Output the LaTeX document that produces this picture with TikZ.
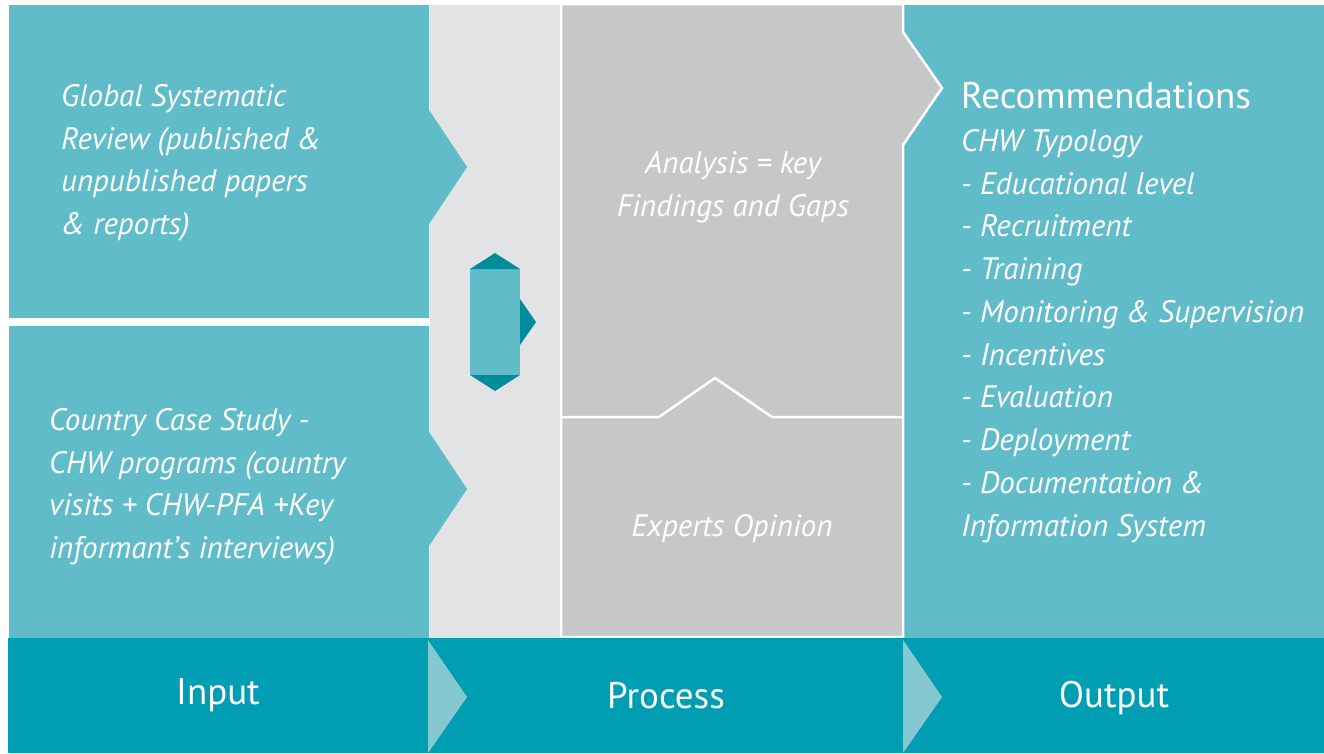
\documentclass[tikz,border=0pt]{standalone}
\usepackage{fontspec}
\setmainfont{PT Sans}

\definecolor{tealpale}{HTML}{61BCCA}
\definecolor{tealdark}{HTML}{008C9B}
\definecolor{tealband}{HTML}{009EB2}
\definecolor{tealtip}{HTML}{86C8D2}
\definecolor{greylight}{HTML}{E2E3E5}
\definecolor{greymid}{HTML}{C6C7C9}

\begin{document}
\begin{tikzpicture}[x=1pt, y=-1pt,
        body/.style={text=white, inner sep=0pt, align=left,
            font=\fontsize{31}{42.75}\selectfont\itshape},
        stage/.style={text=white, inner sep=0pt,
            font=\fontsize{37}{42}\selectfont}]
    \useasboundingbox (0,0) rectangle (1324,753);

    % process column and the two input blocks
    \fill[greylight] (430,5) rectangle (560,638);
    \fill[tealpale] (9,5) -- (429,5) -- (429,110) -- (467,167) -- (429,224) -- (429,318) -- (9,318) -- cycle;
    \fill[tealpale] (9,326) -- (429,326) -- (429,432) -- (467,489) -- (429,546) -- (429,638) -- (9,638) -- cycle;

    % output block, analysis block on top of it
    \fill[tealpale] (903,5) rectangle (1324,638);
    \filldraw[greymid, draw=white, line width=2.5pt] (561,4) -- (903,4) -- (903,32) -- (942,88) -- (903,145) -- (903,637) -- (561,637) -- cycle;
    \draw[white, line width=2.5pt] (562,417) -- (659,417) -- (715,378) -- (772,417) -- (903,417);

    % small icon
    \fill[tealpale] (470,269) rectangle (520,375);
    \fill[tealdark] (470,269) -- (495,253) -- (520,269) -- cycle;
    \fill[tealdark] (470,375) -- (495,391) -- (520,375) -- cycle;
    \fill[tealdark] (520,299) -- (536,322) -- (520,345) -- cycle;

    % bottom band
    \fill[tealband] (8,638) rectangle (1324,753);
    \fill[tealtip] (428,640) -- (467,697) -- (428,753) -- cycle;
    \fill[tealtip] (903,640) -- (942,697) -- (903,753) -- cycle;

    \node[body, anchor=north west] (review) at (61,84)
        {Global Systematic\\Review (published \&\\unpublished papers\\\& reports)};
    \node[body, anchor=north west] (casestudy) at (49,408)
        {Country Case Study -\\CHW programs (country\\visits + CHW-PFA +Key\\informant’s interviews)};
    \node[body, align=center] (analysis) at (733,187) {Analysis = key\\Findings and Gaps};
    \node[body] (experts) at (732,529) {Experts Opinion};

    \node[stage, anchor=north west] (recs) at (961,82) {Recommendations};
    \node[body, anchor=north west] (typology) at (961,129)
        {CHW Typology\\- Educational level\\- Recruitment\\- Training\\- Monitoring \& Supervision\\- Incentives\\- Evaluation\\- Deployment\\- Documentation \&\\Information System};

    \node[stage] (input) at (218,695) {Input};
    \node[stage] (process) at (666,696) {Process};
    \node[stage] (output) at (1114,698) {Output};
\end{tikzpicture}
\end{document}
